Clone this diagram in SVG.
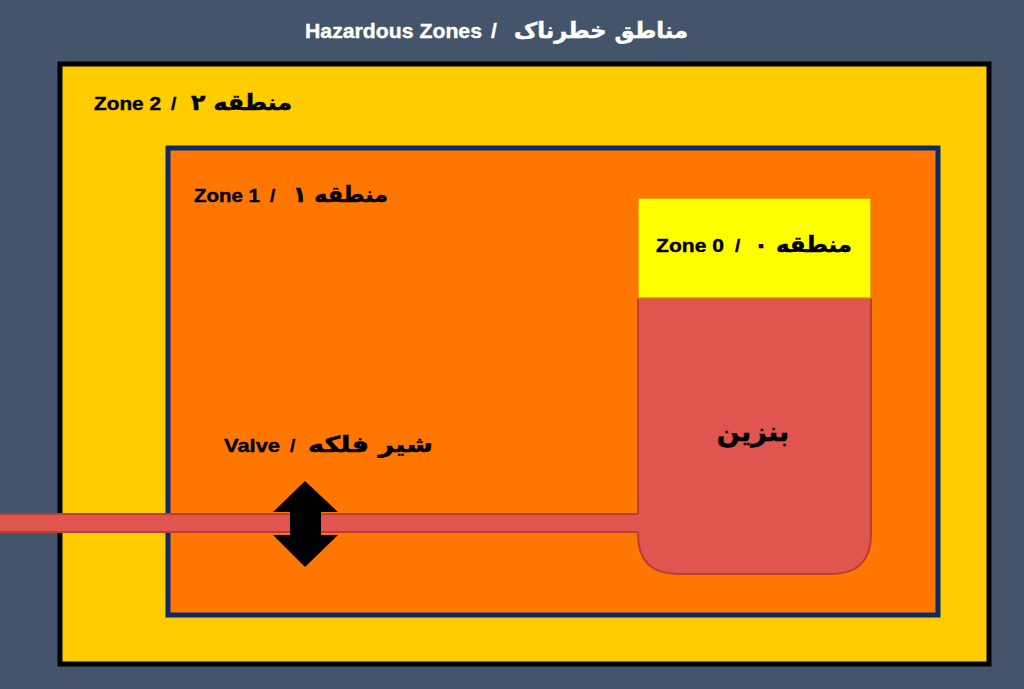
<svg xmlns="http://www.w3.org/2000/svg" width="1024" height="689" viewBox="0 0 1024 689">
<style>
.t{font-family:"Liberation Sans","DejaVu Sans",sans-serif;font-weight:bold;fill:#000;stroke:#000;stroke-width:0.4;font-size:19px}
.a{font-family:"DejaVu Sans","Noto Sans",sans-serif;font-weight:bold;fill:#000;stroke:#000;stroke-width:0.5;font-size:22px}
.w{fill:#fff;stroke:#fff}
.red{fill:#E05550;stroke:#B8402F;stroke-width:2}
.edge{stroke:#B8402F;stroke-width:2;fill:none}
</style>
<rect x="0" y="0" width="1024" height="689" fill="#44546A"/>
<g id="title">
<text class="t w" x="305" y="38" style="font-size:21px" textLength="177" lengthAdjust="spacingAndGlyphs">Hazardous Zones</text>
<text class="t w" x="491" y="38" style="font-size:21px">/</text>
<text class="a w" x="514" y="38" textLength="174" lengthAdjust="spacingAndGlyphs">مناطق خطرناک</text>
</g>
<g id="zone2">
<rect x="60" y="64" width="929" height="600" fill="#FFCC00" stroke="#000" stroke-width="5"/>
<text class="t" x="94" y="110" textLength="67" lengthAdjust="spacingAndGlyphs">Zone 2</text>
<text class="t" x="171" y="110">/</text>
<text class="a" x="191" y="110" textLength="101" lengthAdjust="spacingAndGlyphs">۲ منطقه</text>
</g>
<g id="zone1">
<rect x="168" y="148" width="770" height="467" fill="#FF7700" stroke="#0F2A6B" stroke-width="5"/>
<text class="t" x="194" y="202" textLength="66" lengthAdjust="spacingAndGlyphs">Zone 1</text>
<text class="t" x="270" y="202">/</text>
<text class="a" x="293" y="202" textLength="95" lengthAdjust="spacingAndGlyphs">۱ منطقه</text>
</g>
<g id="tank">
<path class="red" d="M638 298 H871 V534 Q871 574 831 574 H678 Q638 574 638 534 Z"/>
<text class="a" x="753" y="441" style="font-size:27px" text-anchor="middle">بنزین</text>
</g>
<g id="connectors">
<rect x="-5" y="514" width="646" height="18" fill="#E05550"/>
<path class="edge" d="M-5 514 H638 M-5 532 H638"/>
</g>
<g id="zone0">
<rect x="638" y="198" width="233" height="100" fill="#FFFF00" stroke="#E08A00" stroke-width="1.5"/>
<text class="t" x="656" y="252" textLength="68" lengthAdjust="spacingAndGlyphs">Zone 0</text>
<text class="t" x="735" y="252">/</text>
<text class="a" x="754" y="252" textLength="98" lengthAdjust="spacingAndGlyphs">۰ منطقه</text>
</g>
<g id="valve">
<path d="M305 481 L338 512 H321 V535 H338 L305 567 L273 535 H290 V512 H273 Z" fill="#000"/>
<text class="t" x="224" y="452" textLength="56" lengthAdjust="spacingAndGlyphs">Valve</text>
<text class="t" x="290" y="452">/</text>
<text class="a" x="308" y="452" textLength="125" lengthAdjust="spacingAndGlyphs">شیر فلکه</text>
</g>
</svg>
